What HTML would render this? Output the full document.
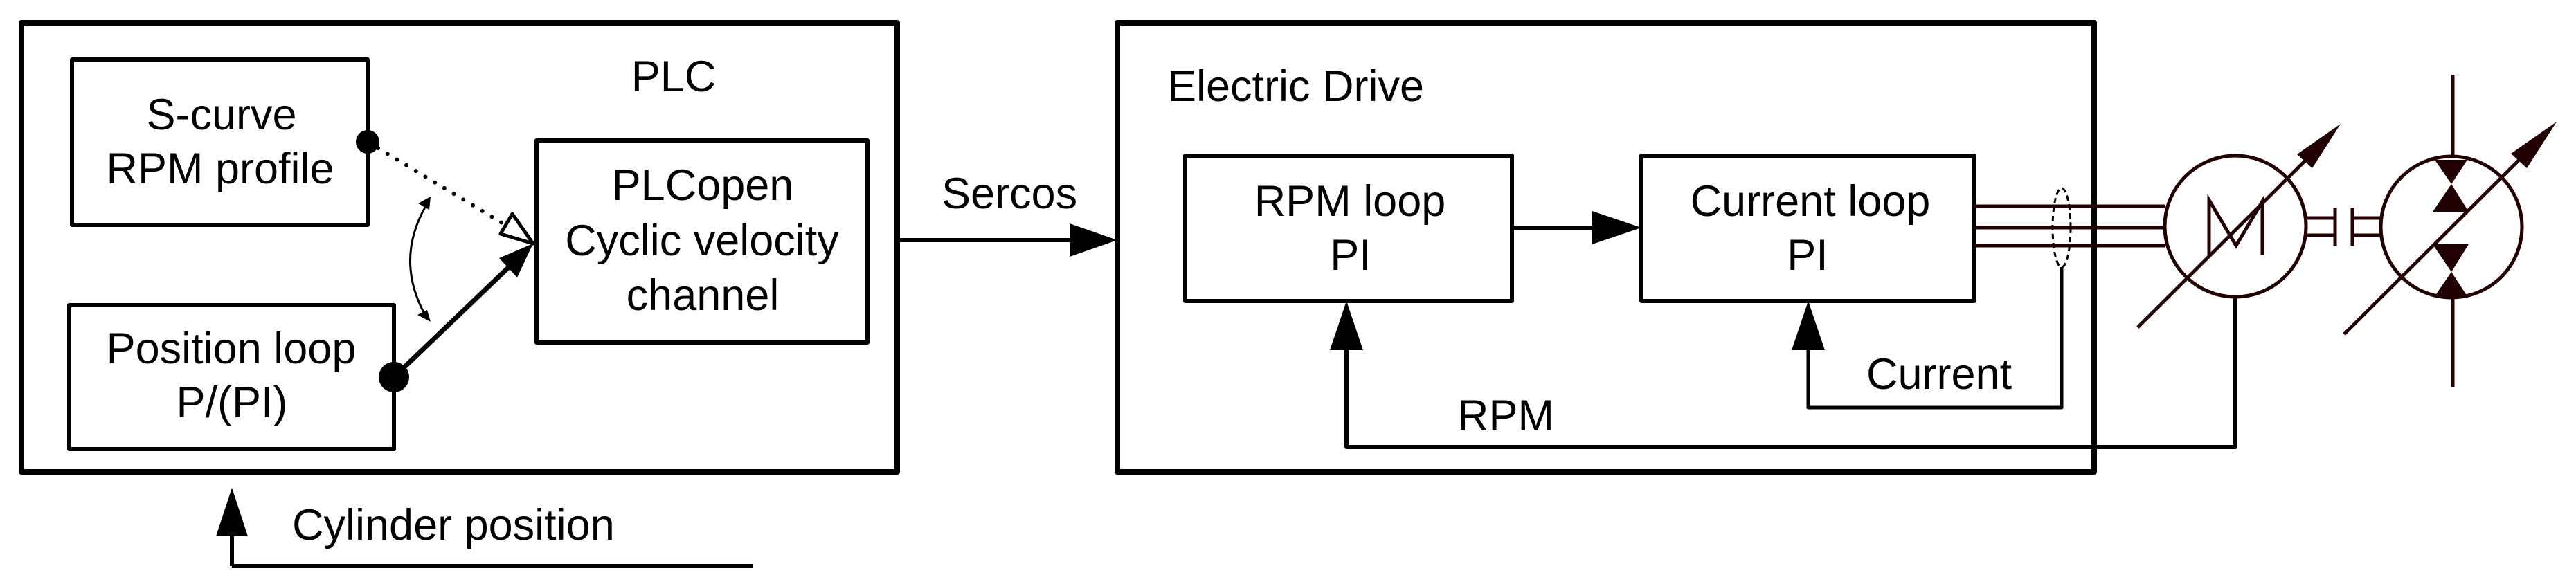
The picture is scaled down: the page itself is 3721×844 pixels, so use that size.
<!DOCTYPE html>
<html><head><meta charset="utf-8"><style>html,body{margin:0;padding:0;background:#fff}svg{display:block}</style></head><body>
<svg width="3721" height="844" viewBox="0 0 3721 844" xmlns="http://www.w3.org/2000/svg" font-family="Liberation Sans, Arial, sans-serif" font-size="63">
<rect width="3721" height="844" fill="#fff"/>
<g fill="none" stroke="#000" stroke-linejoin="round">
<rect x="31" y="33" width="1265" height="649" stroke-width="8"/>
<rect x="104" y="86" width="427" height="239" stroke-width="6"/>
<rect x="100" y="441" width="469" height="208" stroke-width="6"/>
<rect x="775" y="203" width="478" height="292" stroke-width="6"/>
<rect x="1614" y="33" width="1411" height="649" stroke-width="8"/>
<rect x="1712" y="225" width="472" height="210" stroke-width="6"/>
<rect x="2371" y="225" width="481" height="210" stroke-width="6"/>
<!-- dotted -->
<line x1="546" y1="214" x2="725" y2="322" stroke-width="6" stroke-dasharray="0 16" stroke-linecap="round"/>
<polygon points="740,309 723,338 770,352" stroke-width="5"/>
<!-- solid -->
<line x1="569" y1="545" x2="735" y2="386" stroke-width="7"/>
<!-- curve -->
<path d="M616,296 Q570,375 614,455" stroke-width="3"/>
<!-- sercos -->
<line x1="1296" y1="347" x2="1550" y2="347" stroke-width="6"/>
<line x1="2184" y1="329" x2="2305" y2="329" stroke-width="6"/>
<polyline points="1945,500 1945,646 3229,646 3229,431" stroke-width="6"/>
<polyline points="2612,500 2612,589 2978,589 2978,386" stroke-width="5"/>
<line x1="335" y1="818" x2="335" y2="770" stroke-width="6"/>
<line x1="335" y1="818" x2="1088" y2="818" stroke-width="6"/>
<ellipse cx="2978" cy="329" rx="13" ry="57" stroke-width="3" stroke-dasharray="8 5"/>
</g>
<g fill="#000">
<circle cx="531" cy="205" r="17"/>
<circle cx="569" cy="545" r="22"/>
<polygon points="770,352 721,373 747,401"/>
<polygon points="622,284 604,294 620,303"/>
<polygon points="622,465 603,455 617,448"/>
<polygon points="1614,347 1545,323 1545,371"/>
<polygon points="2371,329 2300,305 2300,353"/>
<polygon points="1945,435 1921,506 1969,506"/>
<polygon points="2612,435 2588,506 2636,506"/>
<polygon points="335,705 312,775 358,775"/>
</g>
<g fill="none" stroke="#200000" stroke-width="5">
<line x1="2852" y1="298" x2="3127" y2="298"/>
<line x1="2852" y1="329" x2="3126" y2="329"/>
<line x1="2852" y1="355" x2="3127" y2="355"/>
<circle cx="3229" cy="327" r="102"/>
<polyline points="3191,369 3191,289 3230,355 3268,291 3268,369"/>
<line x1="3088" y1="473" x2="3340" y2="222"/>
<line x1="3331" y1="315" x2="3373" y2="315"/>
<line x1="3331" y1="340" x2="3373" y2="340"/>
<line x1="3373" y1="301" x2="3373" y2="355"/>
<line x1="3398" y1="301" x2="3398" y2="355"/>
<line x1="3398" y1="315" x2="3440" y2="315"/>
<line x1="3398" y1="340" x2="3440" y2="340"/>
<circle cx="3541" cy="328" r="102"/>
<line x1="3386" y1="483" x2="3648" y2="222"/>
<line x1="3543" y1="108" x2="3543" y2="229"/>
<line x1="3543" y1="431" x2="3543" y2="560"/>
</g>
<g fill="#200000">
<polygon points="3381,179 3318,223 3340,243"/>
<polygon points="3693,176 3627,222 3650,243"/>
<polygon points="3517,231 3564,231 3541,266"/>
<polygon points="3514,306 3566,306 3541,266"/>
<polygon points="3514,353 3566,353 3541,393"/>
<polygon points="3517,428 3564,428 3541,393"/>
</g>
<g fill="#000">
<text x="973" y="132" text-anchor="middle">PLC</text>
<text x="320" y="187" text-anchor="middle">S-curve</text>
<text x="318" y="265" text-anchor="middle">RPM profile</text>
<text x="1015" y="289" text-anchor="middle">PLCopen</text>
<text x="1014" y="369" text-anchor="middle">Cyclic velocity</text>
<text x="1015" y="448" text-anchor="middle">channel</text>
<text x="334" y="525" text-anchor="middle">Position loop</text>
<text x="335" y="603" text-anchor="middle">P/(PI)</text>
<text x="422" y="780">Cylinder position</text>
<text x="1360" y="301">Sercos</text>
<text x="1686" y="146">Electric Drive</text>
<text x="1950" y="312" text-anchor="middle">RPM loop</text>
<text x="1951" y="390" text-anchor="middle">PI</text>
<text x="2615" y="312" text-anchor="middle">Current loop</text>
<text x="2611" y="390" text-anchor="middle">PI</text>
<text x="2105" y="622">RPM</text>
<text x="2696" y="562">Current</text>
</g>
</svg>
</body></html>
